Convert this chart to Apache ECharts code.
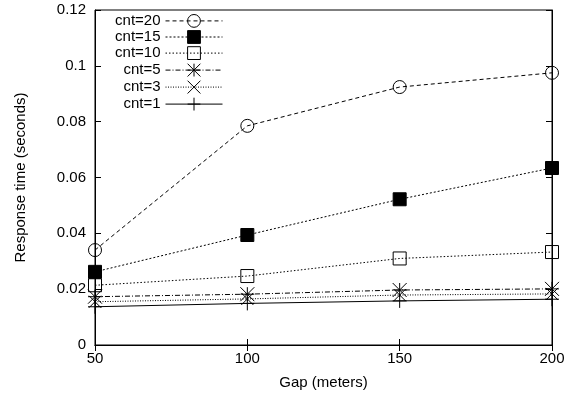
<!DOCTYPE html>
<html>
<head>
    <meta charset="utf-8">
    <title>Response time vs gap</title>
    <script src="https://cdn.jsdelivr.net/npm/echarts@6/dist/echarts.min.js"></script>
</head>
<body style="margin:0">
<div id="main" style="width: 575px;height:401px;"></div>
<script type="text/javascript">
    // gap values on the x axis
    var gaps = [50, 100, 150, 200];
    var names = ['cnt=20', 'cnt=15', 'cnt=10', 'cnt=5', 'cnt=3', 'cnt=1'];

    // response time (seconds)
    var cnt20 = [0.0340, 0.0785, 0.0924, 0.0975];
    var cnt15 = [0.0262, 0.0394, 0.0522, 0.0634];
    var cnt10 = [0.0214, 0.0247, 0.0310, 0.0333];
    var cnt5 = [0.0173, 0.0182, 0.0197, 0.0201];
    var cnt3 = [0.0155, 0.0165, 0.0179, 0.0183];
    var cnt1 = [0.0137, 0.0149, 0.0158, 0.0164];

    var font = 'Liberation Sans, Arial, sans-serif';

    function pairs(ys) {
        var out = [];
        for (var i = 0; i < gaps.length; i++) {
            out.push([gaps[i], ys[i]]);
        }
        return out;
    }

    // symbol + line look for each series
    var looks = [
        {data: cnt20, symbol: 'circle', size: 13, fill: 'none', dash: [4, 3]},
        {data: cnt15, symbol: 'rect', size: 13, fill: '#000', dash: [2, 2]},
        {data: cnt10, symbol: 'rect', size: 13, fill: 'none', dash: [1.5, 2]},
        {data: cnt5, symbol: 'path://M0,0L10,10M10,0L0,10M5,0L5,10M0,5L10,5', size: 14, fill: 'none', dash: [5, 2, 1, 2]},
        {data: cnt3, symbol: 'path://M0,0L10,10M10,0L0,10', size: 12, fill: 'none', dash: [1, 1.5]},
        {data: cnt1, symbol: 'path://M5,0L5,10M0,5L10,5', size: 14, fill: 'none', dash: 'solid'}
    ];

    var series = [];
    for (var k = 0; k < looks.length; k++) {
        series.push({
            name: names[k],
            type: 'line',
            data: pairs(looks[k].data),
            symbol: looks[k].symbol,
            symbolSize: looks[k].size,
            showAllSymbol: true,
            clip: false,
            itemStyle: {color: looks[k].fill, borderColor: '#000', borderWidth: 1},
            lineStyle: {color: '#000', width: 1, type: looks[k].dash},
            emphasis: {disabled: true}
        });
    }

    var tickIn = {show: true, inside: true, length: 6, lineStyle: {color: '#000'}};
    var lineOn = {show: true, lineStyle: {color: '#000', width: 1}};

    var myChart = echarts.init(document.getElementById('main'));
    var option = {
        animation: false,
        backgroundColor: '#fff',
        grid: {left: 95, right: 23, top: 10, bottom: 56, show: true, borderColor: '#000', borderWidth: 1},
        legend: {
            data: names,
            orient: 'vertical',
            align: 'right',
            right: 352,
            top: 12,
            padding: 0,
            itemWidth: 57,
            itemHeight: 16,
            itemGap: -0.8,
            selectedMode: false,
            textStyle: {fontFamily: font, fontSize: 15, lineHeight: 16, color: '#000'},
            itemStyle: {borderWidth: 1},
            lineStyle: {width: 1}
        },
        xAxis: [{
            type: 'value', min: 50, max: 200, interval: 50,
            name: 'Gap (meters)', nameLocation: 'middle', nameGap: 30,
            nameTextStyle: {fontFamily: font, fontSize: 15, color: '#000'},
            axisLine: lineOn, axisTick: tickIn, splitLine: {show: false},
            axisLabel: {fontFamily: font, fontSize: 15, color: '#000', margin: 6}
        }, {
            type: 'value', min: 50, max: 200, interval: 50, position: 'top',
            axisLine: lineOn, axisTick: tickIn, splitLine: {show: false}, axisLabel: {show: false}
        }],
        yAxis: [{
            type: 'value', min: 0, max: 0.12, interval: 0.02,
            name: 'Response time (seconds)', nameLocation: 'middle', nameGap: 67,
            nameTextStyle: {fontFamily: font, fontSize: 15, color: '#000'},
            axisLine: lineOn, axisTick: tickIn, splitLine: {show: false},
            axisLabel: {fontFamily: font, fontSize: 15, color: '#000', margin: 9}
        }, {
            type: 'value', min: 0, max: 0.12, interval: 0.02, position: 'right',
            axisLine: lineOn, axisTick: tickIn, splitLine: {show: false}, axisLabel: {show: false}
        }],
        series: series
    };
    myChart.setOption(option);
</script>
</body>
</html>
